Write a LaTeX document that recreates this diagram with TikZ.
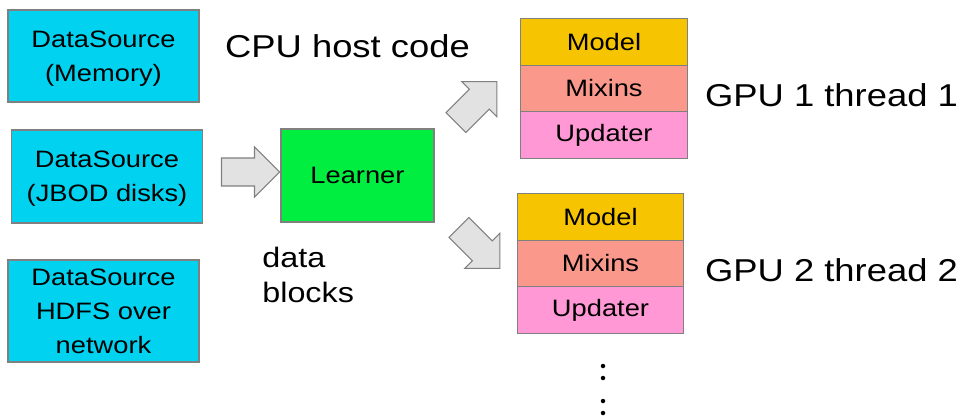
\documentclass[tikz,border=0pt]{standalone}
\usepackage{fontspec}
\setmainfont{Liberation Sans}[FakeStretch=1.15]
\usepackage{tikz}
\usetikzlibrary{positioning,shapes.arrows}

\definecolor{srccyan}{RGB}{0,210,240}
\definecolor{learngreen}{RGB}{0,238,64}
\definecolor{modelgold}{RGB}{246,196,0}
\definecolor{mixinred}{RGB}{250,152,140}
\definecolor{updpink}{RGB}{255,152,212}
\definecolor{edgegray}{RGB}{128,128,128}
\definecolor{arrowfill}{RGB}{226,226,226}

\tikzset{
    boxtext/.style = {
        font=\fontsize{13.5}{19.5}\selectfont,
        align=center
    },
    bigtext/.style = {
        font=\fontsize{18}{20}\selectfont,
        inner sep=0pt
    },
    source/.style = {
        boxtext,
        draw=edgegray,
        fill=srccyan,
        shape=rectangle,
        minimum width=3.82cm,
        text depth=0pt,
        line width=0.6pt
    },
    learnbox/.style = {
        boxtext,
        draw=edgegray,
        fill=learngreen,
        shape=rectangle,
        minimum width=3.06cm,
        minimum height=1.86cm,
        line width=0.6pt
    },
    cell/.style = {
        boxtext,
        draw=edgegray,
        shape=rectangle,
        minimum width=3.33cm,
        minimum height=0.93cm,
        line width=0.6pt
    },
    fatarrow/.style = {
        draw=edgegray,
        fill=arrowfill,
        shape=single arrow,
        line width=0.6pt,
        inner xsep=0pt,
        inner ysep=0.27cm,
        minimum height=1.16cm,
        single arrow head extend=0.22cm
    },
    dot/.style = {
        fill=black,
        shape=circle,
        inner sep=0pt,
        minimum size=0.09cm
    },
}

\begin{document}
\begin{tikzpicture}[x=0.02cm, y=-0.02cm]
            \useasboundingbox (0,0) rectangle (964,419);

            % data sources
            \node[source, minimum height=1.84cm] (memsrc) at (103.5, 56) {DataSource\\(Memory)};
            \node[source, minimum height=1.86cm] (disksrc) at (107, 176.5) {DataSource\\(JBOD disks)};
            \node[source, minimum height=2.04cm] (hdfssrc) at (103.5, 311) {DataSource\\HDFS over\\network};

            % host side
            \node[bigtext] (cpulabel) at (347.5, 46) {CPU host code};
            \node[learnbox] (learner) at (357.5, 175.5) {Learner};
            \node[bigtext, anchor=west, align=left, font=\fontsize{16}{20}\selectfont] (blocks) at (262, 275) {data\\blocks};

            \node[fatarrow] (feed) at (243.5, 172) {};
            \node[fatarrow, rotate=45] (toone) at (471.5, 107) {};
            \node[fatarrow, rotate=-45] (totwo) at (474.5, 243) {};

            % gpu 1
            \begin{scope}[on grid, node distance=0.93cm]
            \node[cell, fill=modelgold] (modela) at (604, 42) {Model};
            \node[cell, fill=mixinred, below=of modela] (mixina) {Mixins};
            \node[cell, fill=updpink, below=of mixina] (updatera) {Updater};

            % gpu 2
            \node[cell, fill=modelgold] (modelb) at (600.5, 217) {Model};
            \node[cell, fill=mixinred, below=of modelb] (mixinb) {Mixins};
            \node[cell, fill=updpink, below=of mixinb] (updaterb) {Updater};
            \end{scope}

            \node[bigtext] (gpua) at (831.5, 95) {GPU 1 thread 1};
            \node[bigtext] (gpub) at (831.5, 270) {GPU 2 thread 2};

            % more threads
            \node[dot] (dota) at (603, 366) {};
            \node[dot] (dotb) at (603, 378) {};
            \node[dot] (dotc) at (603, 401) {};
            \node[dot] (dotd) at (603, 413) {};
        \end{tikzpicture}
\end{document}
